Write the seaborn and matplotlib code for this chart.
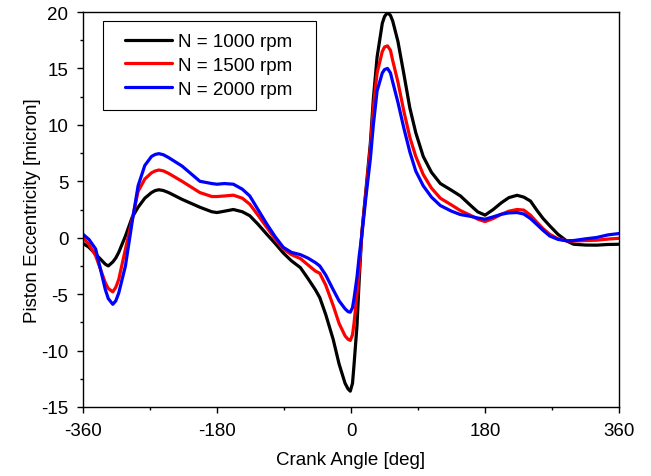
import pandas as pd
import matplotlib
matplotlib.use('Agg')
import matplotlib.pyplot as plt
import seaborn as sns
from matplotlib.patches import Rectangle
from matplotlib.ticker import MultipleLocator

# Crank angle [deg] and eccentricity [micron]
crank_angle = [-360, -352, -343, -330, -326, -320, -316, -312, -303, -294, -286, -277, -268, -263, -258,
               -252, -245, -227, -203, -187, -180, -170, -158, -146, -136, -125, -113, -102,
               -91, -80, -68, -58, -48, -42, -34, -24, -16, -8, -4, -1, 2, 4, 8, 11, 14.5,
               20, 26, 30, 35, 42, 45, 49, 53, 56, 63, 71, 79, 87, 97, 108, 120, 135, 147,
               160, 170, 180, 191, 202, 212, 223, 232, 241, 250, 258, 267, 278, 290,
               299, 315, 330, 345, 360]

ecc_1000 = [-0.5, -0.85, -1.45, -2.35, -2.5, -2.15, -1.8, -1.3, 0.15, 1.8, 2.7, 3.5, 4.0, 4.18, 4.25,
            4.18, 4.0, 3.4, 2.7, 2.3, 2.23, 2.35, 2.5, 2.3, 1.95, 1.2, 0.3, -0.5,
            -1.35, -2.05, -2.65, -3.6, -4.6, -5.3, -6.8, -9.0, -11.2, -12.9, -13.4, -13.6, -12.9, -11.3, -7.8, -3.7, 0.4,
            4.2, 8.4, 12.3, 16.0, 19.0, 19.6, 19.95, 19.7, 19.2, 17.4, 14.5, 11.5, 9.3, 7.2, 5.8, 4.8, 4.2, 3.7,
            2.9, 2.3, 2.0, 2.5, 3.1, 3.55, 3.76, 3.6, 3.25, 2.4, 1.7, 1.05, 0.3, -0.3,
            -0.58, -0.65, -0.66, -0.6, -0.58]

ecc_1500 = [0.0, -0.6, -1.6, -4.0, -4.5, -4.8, -4.4, -3.7, -1.0, 1.6, 4.1, 5.2, 5.75, 5.92, 6.0,
            5.92, 5.7, 5.0, 4.0, 3.65, 3.65, 3.7, 3.77, 3.5, 2.97, 2.0, 0.9, -0.1,
            -1.0, -1.5, -1.85, -2.4, -2.95, -3.15, -4.2, -6.0, -7.6, -8.7, -9.0, -9.1, -8.6, -7.6, -5.0, -2.9, 0.4,
            4.0, 8.0, 11.5, 14.6, 16.5, 16.9, 17.0, 16.6, 15.7, 13.8, 11.2, 8.9, 7.2, 5.6, 4.4, 3.5, 2.9, 2.4,
            2.0, 1.65, 1.43, 1.7, 2.08, 2.35, 2.5, 2.45, 2.0, 1.35, 0.8, 0.3, -0.1, -0.28,
            -0.3, -0.25, -0.22, -0.12, -0.05]

ecc_2000 = [0.3, -0.15, -1.0, -4.6, -5.4, -5.9, -5.6, -4.9, -2.5, 1.4, 4.6, 6.4, 7.2, 7.38, 7.45,
            7.35, 7.1, 6.35, 5.0, 4.8, 4.74, 4.8, 4.74, 4.3, 3.7, 2.5, 1.2, 0.1,
            -0.85, -1.3, -1.5, -1.8, -2.2, -2.5, -3.3, -4.6, -5.6, -6.3, -6.55, -6.6, -6.2, -5.4, -3.5, -1.6, 0.2,
            3.6, 7.0, 10.0, 13.0, 14.6, 14.9, 15.0, 14.6, 13.8, 12.0, 9.7, 7.6, 5.9, 4.6, 3.6, 2.85, 2.35, 2.05,
            1.9, 1.75, 1.64, 1.85, 2.08, 2.2, 2.23, 2.1, 1.7, 1.15, 0.65, 0.15, -0.15, -0.28,
            -0.25, -0.1, 0.02, 0.25, 0.37]

labels = ['N = 1000 rpm', 'N = 1500 rpm', 'N = 2000 rpm']
colors = ['#000000', '#ff0000', '#0000ff']

# Long-form table for seaborn
df = pd.concat([
    pd.DataFrame({'angle': crank_angle, 'ecc': vals, 'speed': lab})
    for vals, lab in zip([ecc_1000, ecc_1500, ecc_2000], labels)
])

sns.set_style('ticks')
plt.rcParams['font.family'] = ['Liberation Sans', 'DejaVu Sans']
plt.rcParams['axes.unicode_minus'] = False
for key in ['text.color', 'axes.labelcolor', 'xtick.color', 'ytick.color']:
    plt.rcParams[key] = 'black'

fig = plt.figure(figsize=(6.51, 4.77), dpi=100)
ax = fig.add_axes([0.1275, 0.1447, 0.8234, 0.828])

sns.lineplot(data=df, x='angle', y='ecc', hue='speed', palette=colors,
             linewidth=2.3, sort=False, ax=ax)

ax.set_xlim(-360, 360)
ax.set_ylim(-15, 20)
ax.xaxis.set_major_locator(MultipleLocator(180))
ax.xaxis.set_minor_locator(MultipleLocator(90))
ax.yaxis.set_major_locator(MultipleLocator(5))
ax.yaxis.set_minor_locator(MultipleLocator(2.5))
ax.tick_params(which='major', direction='out', length=4.5, width=1, pad=6,
               labelsize=13.5, top=False, right=False)
ax.tick_params(which='minor', direction='out', length=2.5, width=1,
               top=False, right=False)

for side in ['left', 'bottom', 'top', 'right']:
    ax.spines[side].set_visible(True)
    ax.spines[side].set_color('black')
    ax.spines[side].set_linewidth(1.0)

ax.set_xlabel('Crank Angle [deg]', fontsize=13.5, labelpad=9)
ax.set_ylabel('Piston Eccentricity [micron]', fontsize=13.5, labelpad=0)

# Legend frame drawn separately so the padding can differ left/top
ax.add_patch(Rectangle((0.0379, 0.7527), 0.3968, 0.2253, transform=ax.transAxes,
                       fill=True, facecolor='white', edgecolor='black',
                       linewidth=0.8, zorder=4))
handles, _ = ax.get_legend_handles_labels()
leg = ax.legend(handles=handles, labels=labels, loc='center left',
                bbox_to_anchor=(0.0784, 0.8646), borderaxespad=0, borderpad=0,
                fontsize=13.5, frameon=False,
                handlelength=2.5, handletextpad=0.3, labelspacing=0.35)
leg.set_zorder(5)
for line in leg.get_lines():
    line.set_linewidth(2.3)

fig.savefig('out.png', dpi=100)
